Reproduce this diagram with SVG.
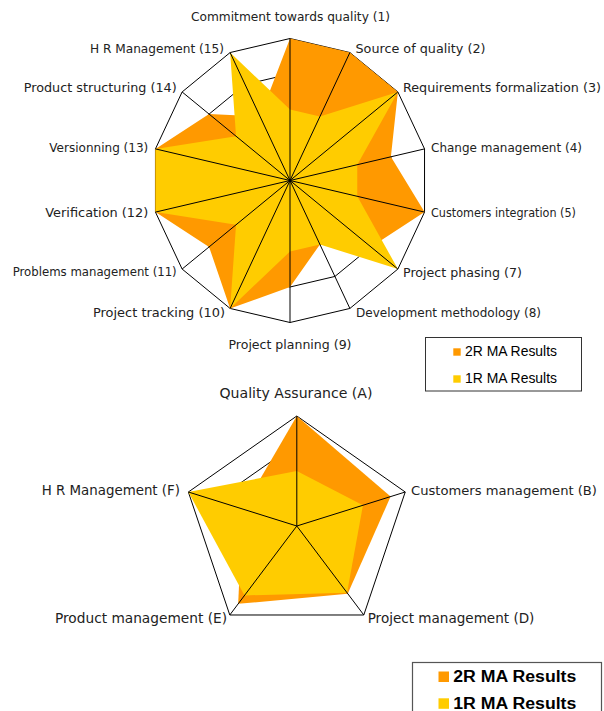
<svg xmlns="http://www.w3.org/2000/svg" width="604" height="711" viewBox="0 0 604 711">
<style>
.lbl{font-family:"DejaVu Sans","Verdana",sans-serif;font-size:12.5px;fill:#222}
.lbl2{font-family:"DejaVu Sans","Verdana",sans-serif;font-size:14px;fill:#222}
.ring{fill:none;stroke:#000;stroke-width:1}
.axis{stroke:#000;stroke-width:1;fill:none}
.r2{fill:#FF9900;stroke:none}
.r1{fill:#FFCC00;stroke:none}
.leg{font-family:"Liberation Sans",Arial,sans-serif;font-size:14px;fill:#000}
.legb{font-family:"Liberation Sans",Arial,sans-serif;font-size:16px;font-weight:bold;fill:#000}
</style>
<rect width="604" height="711" fill="#fff"/>

<!-- Chart 1 -->
<g id="chart1-grid">
<polygon class="ring" fill="#fff" points="290,38.5 349.88,52.56 397.89,91.96 424.54,148.9 424.54,212.1 397.89,269.04 349.88,308.44 290,322.5 230.12,308.44 182.11,269.04 155.46,212.1 155.46,148.9 182.11,91.96 230.12,52.56"/>
<polygon class="ring" points="290,74 334.91,84.55 370.92,114.09 390.9,156.8 390.9,204.2 370.92,246.91 334.91,276.45 290,287 245.09,276.45 209.08,246.91 189.1,204.2 189.1,156.8 209.08,114.09 245.09,84.55"/>
<polygon class="ring" points="290,109.5 319.94,116.53 343.95,136.23 357.27,164.7 357.27,196.3 343.95,224.77 319.94,244.47 290,251.5 260.06,244.47 236.05,224.77 222.73,196.3 222.73,164.7 236.05,136.23 260.06,116.53"/>
<polygon class="ring" points="290,145 304.97,148.52 316.97,158.36 323.64,172.6 323.64,188.4 316.97,202.64 304.97,212.48 290,216 275.03,212.48 263.03,202.64 256.36,188.4 256.36,172.6 263.03,158.36 275.03,148.52"/>
</g>
<g id="chart1-series-2R">
<polygon class="r2" points="290,38.5 349.88,52.56 397.89,91.96 390.9,156.8 424.54,212.1 370.92,246.91 319.94,244.47 290,287 230.12,308.44 209.08,246.91 155.46,212.1 155.46,148.9 209.08,114.09 260.06,116.53"/>
</g>
<g id="chart1-series-1R">
<polygon class="r1" points="290,109.5 319.94,116.53 397.89,91.96 357.27,164.7 357.27,196.3 397.89,269.04 319.94,244.47 290,251.5 230.12,308.44 236.05,224.77 155.46,212.1 155.46,148.9 236.05,136.23 230.12,52.56"/>
</g>
<g id="chart1-axes">
<path class="axis" d="M290,180.5L290,38.5M290,180.5L349.88,52.56M290,180.5L397.89,91.96M290,180.5L424.54,148.9M290,180.5L424.54,212.1M290,180.5L397.89,269.04M290,180.5L349.88,308.44M290,180.5L290,322.5M290,180.5L230.12,308.44M290,180.5L182.11,269.04M290,180.5L155.46,212.1M290,180.5L155.46,148.9M290,180.5L182.11,91.96M290,180.5L230.12,52.56"/>
</g>
<g id="chart1-labels">
<text class="lbl" x="290.5" y="20.5" text-anchor="middle" textLength="199" lengthAdjust="spacingAndGlyphs">Commitment towards quality (1)</text>
<text class="lbl" x="355.5" y="52.5" textLength="130" lengthAdjust="spacingAndGlyphs">Source of quality (2)</text>
<text class="lbl" x="403" y="92" textLength="198" lengthAdjust="spacingAndGlyphs">Requirements formalization (3)</text>
<text class="lbl" x="431" y="152" textLength="151" lengthAdjust="spacingAndGlyphs">Change management (4)</text>
<text class="lbl" x="431" y="216.5" textLength="145" lengthAdjust="spacingAndGlyphs">Customers integration (5)</text>
<text class="lbl" x="403" y="276.5" textLength="119" lengthAdjust="spacingAndGlyphs">Project phasing (7)</text>
<text class="lbl" x="356" y="316.5" textLength="185" lengthAdjust="spacingAndGlyphs">Development methodology (8)</text>
<text class="lbl" x="290" y="348.5" text-anchor="middle" textLength="123" lengthAdjust="spacingAndGlyphs">Project planning (9)</text>
<text class="lbl" x="225" y="316.5" text-anchor="end" textLength="132" lengthAdjust="spacingAndGlyphs">Project tracking (10)</text>
<text class="lbl" x="176.7" y="276" text-anchor="end" textLength="164" lengthAdjust="spacingAndGlyphs">Problems management (11)</text>
<text class="lbl" x="148.3" y="217" text-anchor="end" textLength="103" lengthAdjust="spacingAndGlyphs">Verification (12)</text>
<text class="lbl" x="148.3" y="151.5" text-anchor="end" textLength="99" lengthAdjust="spacingAndGlyphs">Versionning (13)</text>
<text class="lbl" x="176.7" y="91.5" text-anchor="end" textLength="153" lengthAdjust="spacingAndGlyphs">Product structuring (14)</text>
<text class="lbl" x="224" y="52.5" text-anchor="end" textLength="134" lengthAdjust="spacingAndGlyphs">H R Management (15)</text>
</g>
<g id="legend1">
<rect x="425.5" y="337.5" width="156" height="53.5" fill="#fff" stroke="#333" stroke-width="1"/>
<rect x="453.3" y="348.3" width="7.4" height="7.4" fill="#FF9900"/>
<text class="leg" x="465" y="356" textLength="92" lengthAdjust="spacingAndGlyphs">2R MA Results</text>
<rect x="453.3" y="375.3" width="7.4" height="7.4" fill="#FFCC00"/>
<text class="leg" x="465" y="382.7" textLength="92" lengthAdjust="spacingAndGlyphs">1R MA Results</text>
</g>

<!-- Chart 2 -->
<g id="chart2-grid">
<polygon class="ring" fill="#fff" points="296.8,416 405.22,492.01 363.81,614.99 229.79,614.99 188.38,492.01"/>
<polygon class="ring" points="296.8,443.5 378.12,500.51 347.06,592.74 246.54,592.74 215.48,500.51"/>
<polygon class="ring" points="296.8,471 351.01,509 330.3,570.5 263.3,570.5 242.59,509"/>
<polygon class="ring" points="296.8,498.5 323.9,517.5 313.55,548.25 280.05,548.25 269.7,517.5"/>
</g>
<g id="chart2-series-2R">
<polygon class="r2" points="296.8,416 390.58,496.6 347.73,593.63 238.17,603.87 242.59,509"/>
</g>
<g id="chart2-series-1R">
<polygon class="r1" points="296.8,471 362.94,505.27 347.06,592.74 244.53,595.42 188.38,492.01"/>
</g>
<g id="chart2-axes">
<path class="axis" d="M296.8,526L296.8,416M296.8,526L405.22,492.01M296.8,526L363.81,614.99M296.8,526L229.79,614.99M296.8,526L188.38,492.01"/>
</g>
<g id="chart2-labels">
<text class="lbl2" x="296" y="397.5" text-anchor="middle" textLength="153" lengthAdjust="spacingAndGlyphs">Quality Assurance (A)</text>
<text class="lbl2" x="411" y="495" font-size="13px" style="font-size:13px" textLength="186" lengthAdjust="spacingAndGlyphs">Customers management (B)</text>
<text class="lbl2" x="367.7" y="622.5" textLength="166.7" lengthAdjust="spacingAndGlyphs">Project management (D)</text>
<text class="lbl2" x="227" y="622.5" text-anchor="end" textLength="172" lengthAdjust="spacingAndGlyphs">Product management (E)</text>
<text class="lbl2" x="180" y="495" text-anchor="end" textLength="138.3" lengthAdjust="spacingAndGlyphs">H R Management (F)</text>
</g>
<g id="legend2">
<rect x="412.5" y="662.5" width="189" height="60" fill="#fff" stroke="#555" stroke-width="1.2"/>
<rect x="438.5" y="671.5" width="10.5" height="10.5" fill="#FF9900"/>
<text class="legb" x="453.3" y="682.3" textLength="123" lengthAdjust="spacingAndGlyphs">2R MA Results</text>
<rect x="438.5" y="698.3" width="10.5" height="10.5" fill="#FFCC00"/>
<text class="legb" x="453.3" y="709" textLength="123" lengthAdjust="spacingAndGlyphs">1R MA Results</text>
</g>
</svg>
